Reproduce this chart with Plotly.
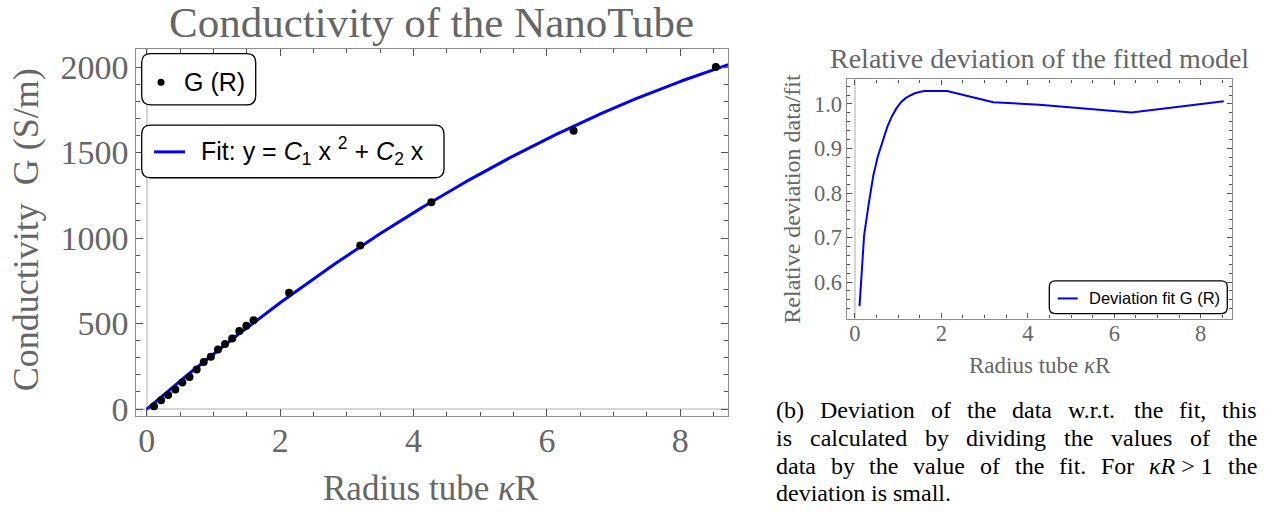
import numpy as np
import plotly.graph_objects as go

# ---------------- data ----------------
radius = [0.107, 0.213, 0.32, 0.427, 0.533, 0.64, 0.747, 0.853, 0.96, 1.067,
          1.173, 1.28, 1.387, 1.493, 1.6, 2.133, 3.2, 4.267, 6.4, 8.533]
conductivity = [16, 51, 83, 114, 155, 187, 232, 275, 306, 349,
                381, 412, 457, 488, 520, 680, 957, 1210, 1628, 2000]
deviation = [0.546, 0.705, 0.776, 0.84, 0.883, 0.916, 0.948, 0.972, 0.99, 1.004,
             1.013, 1.019, 1.024, 1.027, 1.029, 1.029, 1.004, 0.998, 0.981, 1.006]
# fitted model y = C1 x^2 + C2 x
C1 = -11.9
C2 = 334.7
fit_x = np.linspace(0, 8.8, 400)
fit_y = C1 * fit_x**2 + C2 * fit_x

left_xticks = [0, 2, 4, 6, 8]
left_yticks = [0, 500, 1000, 1500, 2000]
right_xticks = [0, 2, 4, 6, 8]
right_yticks = [0.6, 0.7, 0.8, 0.9, 1.0]

W = 1279
H_REF = 512          # reference picture height (layout positions below are in its pixels)
H = 526              # figure height
SERIF = "Liberation Serif"
SANS = "Liberation Sans"
GREY_TXT = "#666666"
FRAME = "#8c8c8c"
TICK = "#555555"
BLUE = "#0000ff"


def px(x):
    return x / W


def py(y):
    return 1 - y / H_REF


fig = go.Figure()
fig.add_trace(go.Scatter(x=fit_x, y=fit_y, mode="lines", line=dict(color=BLUE, width=3),
                         xaxis="x", yaxis="y", showlegend=False, hoverinfo="skip"))
fig.add_trace(go.Scatter(x=radius, y=conductivity, mode="markers",
                         marker=dict(color="black", size=8), xaxis="x", yaxis="y",
                         showlegend=False))
fig.add_trace(go.Scatter(x=radius, y=deviation, mode="lines", line=dict(color=BLUE, width=2),
                         xaxis="x2", yaxis="y2", showlegend=False))


def axis(domain, rng, tickvals, dtick_minor, fs, ticklen, mticklen, anchor, fmt=None, standoff=None):
    d = dict(domain=domain, range=rng, anchor=anchor, showline=True, linecolor=FRAME, linewidth=1.3,
             mirror="ticks", ticks="inside", ticklen=ticklen, tickwidth=1, tickcolor=TICK,
             tickvals=tickvals, showgrid=False, zeroline=True, zerolinecolor="#d6d6d6",
             zerolinewidth=2, tickfont=dict(family=SERIF, size=fs, color=GREY_TXT),
             minor=dict(dtick=dtick_minor, tick0=0, ticklen=mticklen, ticks="inside",
                        tickcolor=TICK, tickwidth=1, showgrid=False))
    if fmt:
        d["tickformat"] = fmt
    if standoff is not None:
        d["ticklabelstandoff"] = standoff
    return d


layout = dict(
    width=W, height=H, margin=dict(l=0, r=0, t=0, b=0),
    paper_bgcolor="white", plot_bgcolor="white", showlegend=False,
    xaxis=axis([px(135.5), px(728.3)], [-0.17, 8.72], left_xticks, 0.5, 34, 7, 4, "y", standoff=-6),
    yaxis=axis([py(414), py(49)], [-43, 2104], left_yticks, 100, 34, 7, 4, "x", standoff=-1),
    xaxis2=axis([px(846.7), px(1232.3)], [-0.19, 8.73], right_xticks, 0.5, 22.5, 5, 3, "y2", standoff=-6),
    yaxis2=axis([py(316.7), py(79)], [0.518, 1.055], right_yticks, 0.02, 22.5, 5, 3, "x2", fmt=".1f", standoff=-1),
)
fig.update_layout(**layout)

ann = []


def text(x, y, s, size, family=SERIF, color=GREY_TXT, xanchor="center", angle=0):
    ann.append(dict(x=px(x), y=py(y), xref="paper", yref="paper", text=s, showarrow=False,
                    xanchor=xanchor, yanchor="middle", textangle=angle, borderpad=0,
                    font=dict(family=family, size=size, color=color)))


# titles
text(431, 22, "Conductivity of the NanoTube", 43)
text(431, 486, "Radius tube <i>κ</i>R", 35)
text(26, 229, "Conductivity\u00a0\u00a0G (S/m)", 36, angle=-90)
text(1039.5, 58.5, "Relative deviation of the fitted model", 28)
text(1039.5, 363, "Radius tube <i>κ</i>R", 23)
text(792, 197.5, "Relative deviation data/fit", 24, angle=-90)

# legend boxes
shapes = []


def rrect(x0, y0, x1, y1, r):
    pts = [("M", x0 + r, y0), ("L", x1 - r, y0), ("Q", x1, y0, x1, y0 + r), ("L", x1, y1 - r),
           ("Q", x1, y1, x1 - r, y1), ("L", x0 + r, y1), ("Q", x0, y1, x0, y1 - r),
           ("L", x0, y0 + r), ("Q", x0, y0, x0 + r, y0)]
    out = []
    for p in pts:
        c = p[0]
        coords = p[1:]
        seg = " ".join(f"{px(coords[i]):.5f},{py(coords[i + 1]):.5f}" for i in range(0, len(coords), 2))
        out.append(f"{c} {seg}")
    return " ".join(out) + " Z"


for (x0, y0, x1, y1, r) in [(141.7, 53.3, 255.7, 104.3, 9), (141.7, 124.3, 444, 176.7, 9),
                            (1049.3, 279.3, 1227.3, 311.7, 6)]:
    shapes.append(dict(type="path", xref="paper", yref="paper", path=rrect(x0, y0, x1, y1, r),
                       line=dict(color="black", width=1.3), fillcolor="white", layer="above"))
shapes.append(dict(type="circle", xref="paper", yref="paper", x0=px(157.5), x1=px(164.5),
                   y0=py(85.2), y1=py(78.2), fillcolor="black", line=dict(width=0), layer="above"))
shapes.append(dict(type="line", xref="paper", yref="paper", x0=px(154), x1=px(185), y0=py(151), y1=py(151),
                   line=dict(color=BLUE, width=3), layer="above"))
shapes.append(dict(type="line", xref="paper", yref="paper", x0=px(1057.7), x1=px(1077.7), y0=py(296.7),
                   y1=py(296.7), line=dict(color=BLUE, width=2), layer="above"))

text(183, 81.5, "G (R)", 25, family=SANS, color="black", xanchor="left")
text(200, 150.5, "Fit: y = <i>C</i><sub>1</sub> x <sup>2</sup> + <i>C</i><sub>2</sub> x", 25,
     family=SANS, color="black", xanchor="left")
text(1088.3, 296.5, "Deviation fit G (R)", 16.5, family=SANS, color="black", xanchor="left")

# caption (justified, word by word)
caption_lines = [
    ["(b)", "Deviation", "of", "the", "data", "w.r.t.", "the", "fit,", "this"],
    ["is", "calculated", "by", "dividing", "the", "values", "of", "the"],
    ["data", "by", "the", "value", "of", "the", "fit.", "For", "<i>κR</i> > 1", "the"],
    ["deviation", "is", "small."],
]
TW = {"a": 444, "b": 500, "c": 444, "d": 500, "e": 444, "f": 333, "g": 500, "h": 500, "i": 278,
      "l": 278, "m": 778, "n": 500, "o": 500, "r": 333, "s": 389, "t": 278, "u": 500, "v": 500,
      "w": 722, "y": 500, "D": 722, "F": 556, "R": 667, "(": 333, ")": 333, ".": 250, ",": 250,
      ">": 564, "1": 500, " ": 250}


def wwidth(w, fs):
    if w.startswith("<i>"):
        return (500 + 611 + 250 + 564 + 250 + 500) / 1000 * fs
    return sum(TW.get(c, 500) for c in w) / 1000 * fs


CFS = 24
L, R = 775, 1256
centers = [408, 435.5, 463, 490]
for i, words in enumerate(caption_lines):
    widths = [wwidth(w, CFS) for w in words]
    if i < 3:
        gap = (R - L - sum(widths)) / (len(words) - 1)
    else:
        gap = 0.25 * CFS
    x = L
    for w, ww in zip(words, widths):
        text(x, centers[i], w, CFS, color="black", xanchor="left")
        x += ww + gap

fig.update_layout(annotations=ann, shapes=shapes)
fig.write_html("out.html")
